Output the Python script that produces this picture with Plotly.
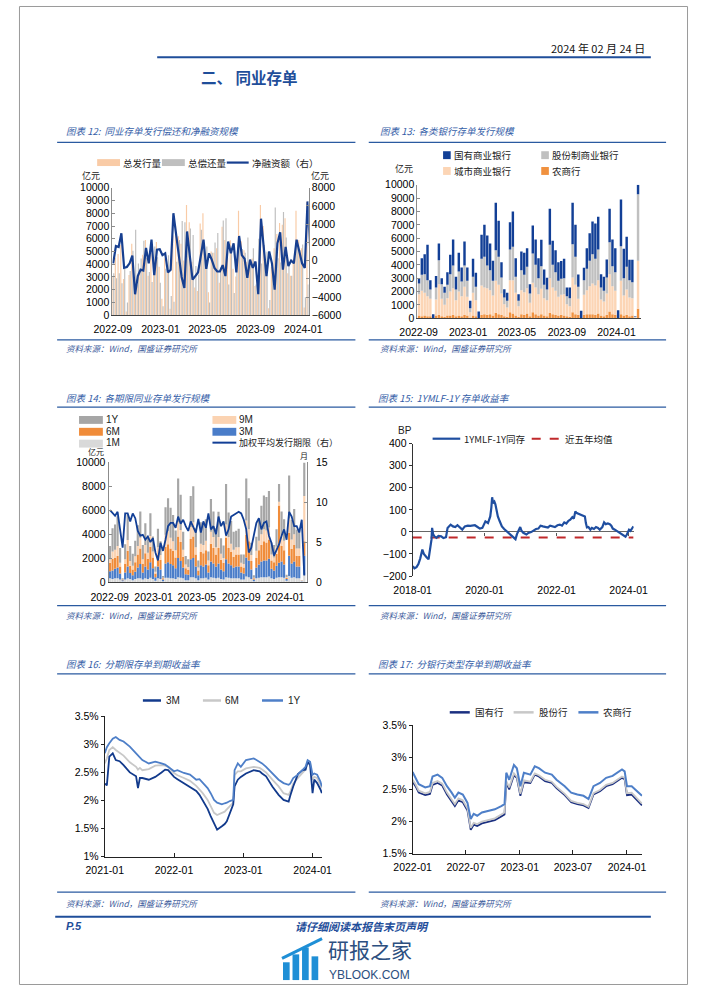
import numpy as np
import pandas as pd
import plotly.graph_objects as go

W, H = 702, 991
def PX(v): return v / W
def PY(v): return 1 - v / H

CJK = "Noto Sans CJK SC"
NUM = "Liberation Sans"
DAY = 86400000

# ---------------- data ----------------
WEEK_START = "2022-09-02"
N_WEEKS = 78
weeks = pd.date_range(WEEK_START, periods=N_WEEKS, freq="7D")

# weekly total NCD issuance (亿元)
total_issue = [3000,4500,4800,5500,2840,300,3160,5600,3000,2350,
               3450,4750,5900,3100,4900,3800,5750,3800,1300,4450,
               3400,500,6250,7000,6200,5600,4300,8650,7300,4200,
               2170,1900,7200,8000,4500,1800,5000,4900,5250,2550,
               6940,5900,4500,5880,3650,3040,8200,5800,5100,4200,
               4280,4450,2300,2300,8650,7000,3280,550,3780,5250,
               6370,7240,7100,7600,3300,3100,4400,8200,5900,5250,
               600,8900,5200,6100,4380,4380,150,10000]

# chart 12
N12 = 73
repay12 = [3300,2900,3300,2500,3640,1000,3460,5050,6700,4050,
           4450,5850,4500,3400,2600,5400,4550,2550,700,3650,
           4700,1500,1050,4200,5900,7400,7300,5450,6800,6300,
           3870,3200,6700,5700,5400,1000,4900,5700,6450,3750,
           7440,7600,2400,5080,1750,4340,5500,5200,4900,6100,
           4180,5250,2400,6000,4050,5500,4980,1200,4080,8450,
           4470,4140,8100,6100,3900,3100,4700,5900,5100,5550,
           1400,2400,4000]
net12 = [-300,1600,1500,3000,-800,-700,-300,550,-3700,-1700,
         -1000,-1100,1400,-300,2300,-1600,1200,1250,600,800,
         -1300,-1000,5200,2800,300,-1800,-3000,3200,500,-2100,
         -1700,-1300,500,2300,-900,800,100,-800,-1200,-1200,
         -500,-1700,2100,800,1900,-1300,2700,600,200,-1900,
         100,-800,-100,-3700,4600,1500,-1700,1000,-300,-3200,
         1900,3100,-1000,1500,-600,0,-300,2300,800,-300,
         -800,6500,1200]
ticks_4m = ["2022-09-01", "2023-01-01", "2023-05-01", "2023-09-01", "2024-01-01"]
ticks_4m_text = ["2022-09", "2023-01", "2023-05", "2023-09", "2024-01"]

# chart 13 (by bank type)
rural13 = [200,150,200,150,150,0,200,250,150,100,
           200,200,250,150,200,150,250,200,50,200,
           150,0,250,300,250,300,200,400,300,250,
           150,100,450,350,200,100,300,250,350,150,
           450,300,200,300,200,150,400,300,250,200,
           250,200,150,100,450,300,250,0,250,300,
           300,300,250,350,200,150,250,500,300,250,
           0,300,200,250,150,200,0,700]
city13 = [1600,1900,1700,1500,1300,0,1200,2300,1300,900,
          1300,1800,2000,1200,1800,1500,2100,1400,400,1700,
          1200,0,2200,2000,2000,1800,1500,2400,2200,1600,
          900,700,2400,2500,1700,800,1800,1700,1900,1000,
          2200,2000,1600,1900,1300,1200,2600,2000,1800,1400,
          1500,1600,900,800,2600,2200,1200,0,1500,1800,
          2100,2300,2200,2500,1200,1100,1600,2800,2100,1800,
          0,2500,1500,1900,1400,1300,50,3600]
joint13 = [800,1200,1400,1200,700,0,900,1800,1100,900,
           1000,1300,1700,800,1500,1100,1600,1200,300,1200,
           1000,0,2000,2300,1700,1500,1100,2300,2100,1200,
           500,500,2300,2500,1200,400,1500,1300,1600,700,
           2200,1700,1200,1700,1000,800,2500,1700,1400,1200,
           1200,1200,600,600,2500,2100,900,0,1100,1600,
           1900,2200,2000,2300,900,800,1200,2400,1500,1400,
           0,2600,1300,1700,1300,1200,50,5000]
state13 = [400,1250,1500,2650,690,300,860,1250,450,450,
           950,1450,1950,950,1400,1050,1800,1000,550,1350,
           1050,500,1800,2400,2250,2000,1500,3550,2700,1150,
           620,600,2050,2650,1400,500,1400,1650,1400,700,
           2090,1900,1500,1980,1150,890,2700,1800,1650,1400,
           1330,1450,650,800,3100,2400,930,550,930,1550,
           2070,2440,2650,2450,1000,1050,1350,2500,2000,1800,
           600,3500,2200,2250,1530,1680,50,700]

# chart 14 (by tenor)
m1 = [300,250,300,300,200,50,200,300,250,150,
      250,300,300,200,300,250,350,250,100,300,
      250,50,350,350,300,300,250,400,350,300,
      150,150,400,400,300,150,300,300,350,200,
      400,350,300,350,250,200,400,350,300,300,
      300,300,200,200,450,400,250,50,300,350,
      400,400,400,450,300,250,350,400,400,350,
      100,500,350,400,300,300,50,600]
m3 = [600,700,800,900,500,100,600,1000,500,400,
      600,900,1200,600,1000,800,1300,900,300,1000,
      800,150,1200,1300,1200,1100,900,1600,1400,900,
      500,450,1500,1600,1000,400,1100,1000,1100,600,
      1300,1200,1000,1200,800,700,1500,1200,1100,900,
      1000,1000,600,500,1600,1400,800,150,900,1100,
      1300,1400,1400,1500,800,700,1000,1200,1300,1100,
      150,1700,1200,1300,1000,1000,50,1600]
m6 = [700,1000,900,1000,600,50,700,1300,600,500,
      800,1100,1300,700,1100,900,1300,900,300,1000,
      800,100,1400,1500,1300,1200,900,1800,1600,900,
      500,400,1700,1800,1000,400,1100,1100,1200,600,
      1500,1300,1000,1300,800,700,1800,1300,1100,900,
      1000,1000,500,500,1900,1600,700,100,800,1200,
      1400,1600,1500,1600,700,700,1000,4800,1300,1200,
      100,1900,1200,1400,900,900,30,1200]
m9 = [300,600,700,800,300,0,400,900,400,300,
      500,700,900,400,700,500,900,500,150,600,
      400,50,1000,1100,900,800,600,1200,1000,600,
      300,250,1000,1200,600,250,700,700,800,400,
      1000,900,600,900,500,400,1100,900,700,600,
      600,600,300,300,1200,1000,500,50,600,800,
      900,1000,1000,1000,500,400,600,300,900,800,
      50,1200,800,900,600,600,10,3800]
y1 = [1100,1950,2100,2500,1240,100,1260,2100,1250,1000,
      1300,1750,2200,1200,1800,1350,1900,1250,450,1550,
      1150,150,2300,2750,2500,2200,1650,3650,2950,1500,
      720,650,2600,3000,1600,600,1800,1800,1800,750,
      2740,2150,1600,2130,1300,1040,3400,2050,1900,1500,
      1380,1550,700,800,3500,2600,1030,200,1180,1800,
      2370,2840,2800,3050,1000,1050,1450,1500,2000,1800,
      200,3600,1650,2100,1580,1580,10,2800]
term14 = [9.0,8.7,8.3,8.8,6.6,4.3,8.6,8.6,7.6,8.6,
          8.0,6.4,5.8,5.9,5.3,5.7,5.0,5.5,3.7,2.7,
          4.9,3.9,5.3,7.0,7.4,7.4,6.8,8.2,7.3,7.8,
          7.0,6.4,7.6,7.0,6.2,7.9,6.2,7.6,6.8,8.6,
          6.6,7.0,6.0,8.2,7.0,7.6,5.8,6.6,8.2,8.4,
          8.6,8.8,8.6,7.8,6.6,3.7,4.3,5.8,7.4,8.0,
          6.6,7.4,7.6,5.8,4.9,3.3,4.1,4.7,5.8,6.6,
          5.3,8.8,8.2,7.0,7.0,6.2,7.8,0.8]

# chart 15: 1Y MLF - 1Y NCD spread (BP)
d15 = ["2018-01-02","2018-01-20","2018-02-10","2018-03-01","2018-03-20","2018-04-10","2018-04-25","2018-05-10",
       "2018-05-25","2018-06-12","2018-06-28","2018-07-12","2018-07-18","2018-07-28","2018-08-10","2018-09-01",
       "2018-09-20","2018-10-18","2018-11-10","2018-12-06","2018-12-22","2019-01-22","2019-02-15","2019-03-10",
       "2019-04-01","2019-04-28","2019-05-20","2019-06-15","2019-07-15","2019-08-10","2019-09-03","2019-09-25",
       "2019-10-22","2019-11-15","2019-12-10","2020-01-10","2020-02-05","2020-02-28","2020-03-10","2020-03-18",
       "2020-03-28","2020-04-10","2020-04-20","2020-05-01","2020-05-15","2020-06-03","2020-06-25","2020-07-18",
       "2020-08-20","2020-09-21","2020-10-15","2020-11-10","2020-11-25","2020-12-12","2020-12-28","2021-01-10",
       "2021-01-28","2021-03-01","2021-03-20","2021-04-18","2021-05-10","2021-06-06","2021-06-30","2021-07-22",
       "2021-08-15","2021-09-10","2021-10-05","2021-10-28","2021-11-20","2021-12-15","2022-01-10","2022-02-03",
       "2022-02-25","2022-03-20","2022-04-10","2022-05-01","2022-05-20","2022-06-10","2022-06-25","2022-07-10",
       "2022-07-25","2022-08-10","2022-09-01","2022-09-25","2022-10-15","2022-10-25","2022-11-05","2022-11-20",
       "2022-12-10","2022-12-25","2023-01-15","2023-02-05","2023-02-25","2023-03-15","2023-04-10","2023-04-28",
       "2023-05-15","2023-06-05","2023-06-25","2023-07-10","2023-07-25","2023-08-15","2023-09-10","2023-09-25",
       "2023-10-15","2023-11-05","2023-11-18","2023-12-01","2023-12-15","2024-01-06","2024-01-20","2024-02-05",
       "2024-02-20"]
v15 = [-155,-165,-160,-146,-120,-80,-100,-110,
       -116,-124,-80,-34,18,-10,-20,-27,
       -18,-20,-28,-24,18,33,25,22,
       30,18,10,25,28,27,28,30,
       22,15,18,48,40,70,110,157,
       130,137,125,100,70,48,25,13,
       0,-12,-20,-33,-10,3,22,5,
       -4,-12,-5,-1,5,13,15,28,
       25,22,20,28,25,22,30,33,
       28,43,38,50,55,67,60,93,
       85,82,78,75,70,40,20,22,
       10,18,13,22,18,10,22,43,
       35,38,35,28,15,10,2,-2,
       -8,-15,-20,-22,-12,10,5,18,
       25]
MEAN_5Y = -25
ticks15 = ["2018-01-01", "2020-01-01", "2022-01-01", "2024-01-01"]
ticks15_text = ["2018-01", "2020-01", "2022-01", "2024-01"]

# chart 16: yields by tenor (%)
d16 = ["2021-01-01","2021-01-12","2021-01-25","2021-02-12","2021-02-28","2021-03-20","2021-04-10","2021-05-13",
       "2021-06-15","2021-06-25","2021-07-05","2021-07-18","2021-08-21","2021-09-24","2021-10-27","2021-11-15",
       "2021-12-01","2022-01-01","2022-01-19","2022-02-22","2022-03-26","2022-04-28","2022-05-15","2022-06-01",
       "2022-06-27","2022-07-13","2022-07-31","2022-08-16","2022-09-10","2022-09-25","2022-10-06","2022-10-22",
       "2022-11-09","2022-11-16","2022-12-03","2022-12-19","2023-01-15","2023-02-25","2023-03-28","2023-04-10",
       "2023-05-01","2023-06-03","2023-07-06","2023-08-01","2023-08-28","2023-09-05","2023-09-21","2023-10-16",
       "2023-11-10","2023-11-25","2023-12-06","2023-12-19","2024-01-01","2024-01-10","2024-01-25","2024-02-11",
       "2024-02-19"]
y16_1y = [2.84,2.95,3.02,3.10,3.13,3.08,3.05,2.96,
          2.84,2.80,2.78,2.72,2.66,2.69,2.66,2.64,
          2.60,2.52,2.54,2.49,2.46,2.37,2.38,2.31,
          2.22,2.13,2.01,1.96,1.93,1.95,1.96,1.99,
          2.01,2.54,2.66,2.60,2.72,2.75,2.69,2.66,
          2.60,2.49,2.37,2.31,2.28,2.30,2.40,2.46,
          2.54,2.60,2.72,2.69,2.46,2.48,2.46,2.34,
          2.25]
y16_6m = [2.66,2.75,2.90,2.95,2.90,2.85,2.80,2.68,
          2.60,2.55,2.58,2.54,2.56,2.62,2.63,2.62,
          2.60,2.49,2.45,2.40,2.35,2.26,2.20,2.13,
          2.01,1.90,1.78,1.74,1.78,1.80,1.84,1.90,
          1.96,2.45,2.52,2.52,2.57,2.60,2.58,2.55,
          2.50,2.37,2.25,2.13,2.10,2.15,2.30,2.40,
          2.50,2.55,2.67,2.67,2.37,2.42,2.40,2.28,
          2.22]
y16_3m = [2.30,2.27,2.78,2.84,2.72,2.70,2.63,2.50,
          2.43,2.22,2.40,2.40,2.37,2.42,2.50,2.55,
          2.54,2.42,2.38,2.31,2.25,2.17,2.10,2.00,
          1.85,1.72,1.58,1.48,1.54,1.58,1.63,1.78,
          1.93,2.25,2.37,2.42,2.48,2.54,2.52,2.48,
          2.43,2.25,2.10,2.01,1.98,2.08,2.25,2.47,
          2.54,2.55,2.69,2.63,2.13,2.37,2.31,2.20,
          2.13]
ticks16 = ["2021-01-01", "2022-01-01", "2023-01-01", "2024-01-01"]
ticks16_text = ["2021-01", "2022-01", "2023-01", "2024-01"]
pct16 = [1, 1.5, 2, 2.5, 3, 3.5]
pct16_text = ["1%", "1.5%", "2%", "2.5%", "3%", "3.5%"]

# chart 17: yields by bank type (%)
d17 = ["2022-01-01","2022-01-11","2022-01-22","2022-02-13","2022-03-01","2022-03-10","2022-03-27","2022-04-12","2022-04-28","2022-05-14",
       "2022-05-25","2022-06-06","2022-06-21","2022-07-07","2022-07-18","2022-07-28","2022-08-09","2022-08-25","2022-09-16","2022-10-08",
       "2022-10-30","2022-11-10","2022-11-16","2022-11-26","2022-12-12","2022-12-22","2023-01-03","2023-01-15","2023-02-06","2023-02-21",
       "2023-03-07","2023-03-28","2023-04-20","2023-05-06","2023-06-03","2023-06-25","2023-07-16","2023-08-06","2023-08-23","2023-09-09",
       "2023-10-01","2023-10-22","2023-11-13","2023-12-04","2023-12-15","2023-12-24","2024-01-01","2024-01-17","2024-02-08","2024-02-21"]
y17_rural = [2.77,2.68,2.58,2.53,2.55,2.70,2.73,2.68,2.55,2.45,
             2.37,2.45,2.42,2.29,2.04,2.12,2.09,2.14,2.17,2.19,
             2.24,2.27,2.76,2.65,2.88,2.83,2.55,2.76,2.73,2.86,
             2.83,2.76,2.73,2.65,2.55,2.45,2.42,2.40,2.35,2.55,
             2.60,2.68,2.71,2.78,2.81,2.78,2.55,2.55,2.45,2.40]
y17_joint = [2.65,2.58,2.48,2.44,2.46,2.60,2.63,2.59,2.45,2.34,
             2.27,2.36,2.33,2.20,1.90,1.98,1.96,2.00,2.03,2.05,
             2.11,2.14,2.63,2.53,2.75,2.70,2.43,2.64,2.62,2.75,
             2.72,2.65,2.62,2.54,2.43,2.32,2.29,2.27,2.23,2.44,
             2.49,2.57,2.60,2.67,2.70,2.68,2.44,2.45,2.35,2.28]
y17_state = [2.62,2.55,2.45,2.41,2.43,2.57,2.60,2.56,2.42,2.31,
             2.24,2.33,2.30,2.17,1.87,1.95,1.93,1.97,2.00,2.02,
             2.08,2.11,2.60,2.50,2.72,2.68,2.40,2.61,2.60,2.73,
             2.70,2.63,2.60,2.52,2.41,2.30,2.27,2.25,2.21,2.42,
             2.47,2.55,2.58,2.65,2.68,2.66,2.41,2.42,2.32,2.25]
ticks17 = ["2022-01-01", "2022-07-01", "2023-01-01", "2023-07-01", "2024-01-01"]
ticks17_text = ["2022-01", "2022-07", "2023-01", "2023-07", "2024-01"]
pct17 = [1.5, 2, 2.5, 3, 3.5]
pct17_text = ["1.5%", "2%", "2.5%", "3%", "3.5%"]

# ---------------- colours ----------------
NAVY = "#173f90"
BLUE_T = "#3560a8"
C_PEACH = "#f9cba6"
C_GRAY = "#bfbfbf"

fig = go.Figure()

# ---- chart 12 ----
w12 = weeks[:N12]
fig.add_trace(go.Bar(x=w12, y=total_issue[:N12], xaxis="x", yaxis="y", marker=dict(color=C_PEACH, line=dict(width=0)),
                     width=3 * DAY, offset=-3 * DAY))
fig.add_trace(go.Bar(x=w12, y=repay12, xaxis="x", yaxis="y", marker=dict(color=C_GRAY, line=dict(width=0)),
                     width=3 * DAY, offset=0))
fig.add_trace(go.Scatter(x=w12, y=net12, xaxis="x", yaxis="y2", mode="lines",
                         line=dict(color=NAVY, width=2.2)))

# ---- chart 13 (stacked with base) ----
stack13 = [(rural13, "#f0913f"), (city13, "#fcd5b5"), (joint13, "#c0c0c0"), (state13, "#123f96")]
base = np.zeros(N_WEEKS)
for vals, col in stack13:
    fig.add_trace(go.Bar(x=weeks, y=vals, base=base.copy(), xaxis="x2", yaxis="y3",
                         marker=dict(color=col, line=dict(width=0)), width=6 * DAY))
    base = base + np.array(vals)

# ---- chart 14 ----
stack14 = [(m1, "#d9d9d9"), (m3, "#4a7dc9"), (m6, "#f08c3a"), (m9, "#fbd3b2"), (y1, "#a6a6a6")]
base = np.zeros(N_WEEKS)
for vals, col in stack14:
    fig.add_trace(go.Bar(x=weeks, y=vals, base=base.copy(), xaxis="x3", yaxis="y4",
                         marker=dict(color=col, line=dict(width=0)), width=6 * DAY))
    base = base + np.array(vals)
fig.add_trace(go.Scatter(x=weeks, y=term14, xaxis="x3", yaxis="y5", mode="lines",
                         line=dict(color="#123f96", width=1.8)))

# ---- chart 15 ----
fig.add_trace(go.Scatter(x=[d15[0], d15[-1]], y=[MEAN_5Y, MEAN_5Y], xaxis="x4", yaxis="y6", mode="lines",
                         line=dict(color="#c0292b", width=2, dash="dash")))
fig.add_trace(go.Scatter(x=d15, y=v15, xaxis="x4", yaxis="y6", mode="lines",
                         line=dict(color="#1f4ea0", width=2.2)))
fig.add_trace(go.Scatter(x=[d15[0]], y=[0], xaxis="x5", yaxis="y6", mode="markers",
                         marker=dict(opacity=0), hoverinfo="skip"))

# ---- chart 16 ----
fig.add_trace(go.Scatter(x=d16, y=y16_6m, xaxis="x6", yaxis="y7", mode="lines", line=dict(color="#c8c8c8", width=1.8)))
fig.add_trace(go.Scatter(x=d16, y=y16_3m, xaxis="x6", yaxis="y7", mode="lines", line=dict(color="#123a8c", width=1.8)))
fig.add_trace(go.Scatter(x=d16, y=y16_1y, xaxis="x6", yaxis="y7", mode="lines", line=dict(color="#4e7fc8", width=1.8)))

# ---- chart 17 ----
fig.add_trace(go.Scatter(x=d17, y=y17_state, xaxis="x7", yaxis="y8", mode="lines", line=dict(color="#1a2f80", width=1.8)))
fig.add_trace(go.Scatter(x=d17, y=y17_joint, xaxis="x7", yaxis="y8", mode="lines", line=dict(color="#c8c8c8", width=1.8)))
fig.add_trace(go.Scatter(x=d17, y=y17_rural, xaxis="x7", yaxis="y8", mode="lines", line=dict(color="#4e7fc8", width=2)))

# ---------------- axes ----------------
TF = dict(family=NUM, size=10.5, color="#000")
def ax(**kw):
    d = dict(showgrid=False, zeroline=False, showline=True, linecolor="#595959", linewidth=1,
             ticks="", tickfont=TF, fixedrange=True, tickangle=0)
    d.update(kw)
    return d

zero_pos = PY(577) + (PY(443) - PY(577)) / 3.0

layout_axes = dict(
    xaxis=ax(domain=[PX(98), PX(304)], anchor="y", type="date", range=["2022-08-31", "2024-01-15"],
             tickvals=ticks_4m, ticktext=ticks_4m_text, linecolor="#404040", ticklabelstandoff=4),
    yaxis=ax(domain=[PY(313), PY(184)], anchor="x", range=[0, 10000], dtick=1000, tickformat="d",
             linecolor="#8c8c8c", ticks="inside", ticklen=3, tickcolor="#8c8c8c"),
    yaxis2=ax(overlaying="y", side="right", anchor="x", range=[-6000, 8000], dtick=2000, tickformat="d",
              linecolor="#8c8c8c", ticks="inside", ticklen=3, tickcolor="#8c8c8c"),
    xaxis2=ax(domain=[PX(418), PX(653)], anchor="y3", type="date", range=["2022-08-29", "2024-03-02"],
              tickvals=ticks_4m, ticktext=ticks_4m_text, linecolor="#404040", ticklabelstandoff=4),
    yaxis3=ax(domain=[PY(316), PY(181)], anchor="x2", range=[0, 10000], dtick=1000, tickformat="d",
              linecolor="#8c8c8c", ticks="inside", ticklen=3, tickcolor="#8c8c8c"),
    xaxis3=ax(domain=[PX(94), PX(302)], anchor="y4", type="date", range=["2022-08-29", "2024-03-01"],
              tickvals=ticks_4m, ticktext=ticks_4m_text, linecolor="#404040", ticklabelstandoff=5),
    yaxis4=ax(domain=[PY(583), PY(462)], anchor="x3", range=[0, 10000], dtick=2000, tickformat="d",
              linecolor="#8c8c8c", ticks="inside", ticklen=3, tickcolor="#8c8c8c"),
    yaxis5=ax(overlaying="y4", side="right", anchor="x3", range=[0, 15], dtick=5, linecolor="#8c8c8c",
              ticks="inside", ticklen=3, tickcolor="#8c8c8c", ticklabelstandoff=6),
    xaxis4=ax(domain=[PX(413), PX(645)], anchor="y6", type="date", range=["2018-01-01", "2024-02-22"],
              tickvals=ticks15, ticktext=ticks15_text, showline=False, ticklabelstandoff=6),
    xaxis5=ax(overlaying="x4", anchor="free", position=zero_pos, type="date", range=["2018-01-01", "2024-02-22"],
              tickvals=ticks15, showticklabels=False, showline=False, ticks="outside", ticklen=3, tickcolor="#555"),
    yaxis6=ax(domain=[PY(577), PY(443)], anchor="x4", range=[-200, 400], dtick=100, linecolor="#333",
              ticks="outside", ticklen=3, tickcolor="#333", zeroline=True, zerolinecolor="#666", zerolinewidth=1),
    xaxis6=ax(domain=[PX(90), PX(318)], anchor="y7", type="date", range=["2021-01-01", "2024-02-20"],
              tickvals=ticks16, ticktext=ticks16_text, linecolor="#222", ticks="inside", ticklen=4, tickcolor="#222",
              ticklabelstandoff=4),
    yaxis7=ax(domain=[PY(861), PY(719)], anchor="x6", range=[1, 3.5], tickvals=pct16, ticktext=pct16_text,
              linecolor="#222", ticks="outside", ticklen=3, tickcolor="#222"),
    xaxis7=ax(domain=[PX(413), PX(654)], anchor="y8", type="date", range=["2022-01-01", "2024-02-22"],
              tickvals=ticks17, ticktext=ticks17_text, linecolor="#222", ticks="inside", ticklen=4, tickcolor="#222",
              ticklabelstandoff=4),
    yaxis8=ax(domain=[PY(858), PY(728)], anchor="x7", range=[1.5, 3.5], tickvals=pct17, ticktext=pct17_text,
              linecolor="#222", ticks="outside", ticklen=3, tickcolor="#222"),
)

# ---------------- decorations ----------------
shapes, annots = [], []
def rect(x0, y0, x1, y1, color):
    shapes.append(dict(type="rect", xref="paper", yref="paper", x0=PX(x0), x1=PX(x1), y0=PY(y1), y1=PY(y0),
                       fillcolor=color, line=dict(width=0), layer="above"))
def hline(x0, x1, y, color, width, dash="solid"):
    shapes.append(dict(type="line", xref="paper", yref="paper", x0=PX(x0), x1=PX(x1), y0=PY(y), y1=PY(y),
                       line=dict(color=color, width=width, dash=dash), layer="above"))
def text(x, y, s, size=9.5, color="#222", family=CJK, anchor="left"):
    annots.append(dict(x=PX(x), y=PY(y), xref="paper", yref="paper", text=s, showarrow=False,
                       xanchor=anchor, yanchor="middle", font=dict(size=size, color=color, family=family),
                       borderpad=0))

# page border
shapes.append(dict(type="rect", xref="paper", yref="paper", x0=PX(0.5), x1=PX(701.5), y0=PY(990.5), y1=PY(0.5),
                   line=dict(color="#9a9a9a", width=1), fillcolor="rgba(0,0,0,0)"))

# header
text(658, 43, "2024 年 02 月 24 日", size=11, color="#111", anchor="right")
hline(145, 663, 52, "#1f4e9a", 2)
text(190, 72, "<b>二、 同业存单</b>", size=15.5, color="#1f4e9a")

LINEC = "#2a5aa0"
# titles & underline
for (x, y, s) in [(48, 127, "图表 12:  同业存单发行偿还和净融资规模"), (378, 127, "图表 13:  各类银行存单发行规模"),
                  (48, 397, "图表 14:  各期限同业存单发行规模"), (376, 397, "图表 15:  1YMLF-1Y 存单收益率"),
                  (48, 666, "图表 16:  分期限存单到期收益率"), (376, 666, "图表 17:  分银行类型存单到期收益率")]:
    text(x, y, "<i>" + s + "</i>", size=9.5, color=BLUE_T)
for y in (138, 406, 676):
    hline(40, 353, y, LINEC, 1.3)
    hline(367, 679, y, LINEC, 1.3)
# source lines
for (yl, yt) in ((338, 346), (607, 616), (897, 908)):
    hline(40, 353, yl, LINEC, 1.3)
    hline(367, 679, yl, LINEC, 1.3)
    text(48, yt, "<i>资料来源：Wind，国盛证券研究所</i>", size=8.5, color="#3d5c9c")
    text(378, yt, "<i>资料来源：Wind，国盛证券研究所</i>", size=8.5, color="#3d5c9c")

# chart 12 legend
rect(82, 155, 106, 162, C_PEACH); text(108, 158.5, "总发行量")
rect(150, 155, 174, 162, C_GRAY); text(176, 158.5, "总偿还量")
hline(218, 241, 158.5, NAVY, 2.2); text(243, 158.5, "净融资额（右）")
text(65, 172, "亿元", size=9); text(305, 172, "亿元", size=9)

# chart 13 legend
rect(445, 147, 453, 155, "#123f96"); text(455, 151, "国有商业银行")
rect(548, 147, 556, 155, "#c0c0c0"); text(558, 151, "股份制商业银行")
rect(445, 163, 453, 171, "#fcd5b5"); text(455, 167, "城市商业银行")
rect(548, 163, 556, 171, "#f0913f"); text(558, 167, "农商行")
text(393, 164, "亿元", size=9)

# chart 14 legend
rect(63, 415, 88, 423, "#a6a6a6"); text(90, 419, "1Y", family=NUM, size=10)
rect(203, 415, 228, 423, "#fbd3b2"); text(230, 419, "9M", family=NUM, size=10)
rect(63, 427, 88, 435, "#f08c3a"); text(90, 431, "6M", family=NUM, size=10)
rect(203, 427, 228, 435, "#4a7dc9"); text(230, 431, "3M", family=NUM, size=10)
rect(63, 439, 88, 447, "#d9d9d9"); text(90, 442, "1M", family=NUM, size=10)
hline(203, 228, 442, "#123f96", 2); text(230, 442, "加权平均发行期限（右）", size=9)
text(71, 451, "亿元", size=8); text(294, 455, "月", size=8)

# chart 15 legend
hline(434, 463, 438, "#1f4ea0", 2.2); text(466, 438, "1YMLF-1Y同存")
hline(538, 568, 438, "#c0292b", 2, "dash"); text(572, 438, "近五年均值")
text(397, 430, "BP", family=NUM, size=10)

# chart 16 legend
hline(130, 149, 703, "#123a8c", 2.5); text(153, 703, "3M", family=NUM, size=10)
hline(193, 212, 703, "#c8c8c8", 2.5); text(215, 703, "6M", family=NUM, size=10)
hline(255, 277, 703, "#4e7fc8", 2.5); text(281, 703, "1Y", family=NUM, size=10)

# chart 17 legend
hline(452, 473, 715, "#1a2f80", 2.5); text(477, 715, "国有行")
hline(519, 540, 715, "#c8c8c8", 2.5); text(545, 715, "股份行")
hline(587, 608, 715, "#4e7fc8", 2.5); text(612, 715, "农商行")

# footer
hline(38, 663, 922, "#1f4e9a", 2)
text(48, 931, "<b><i>P.5</i></b>", family=NUM, size=11, color="#1f4e9a")
text(360, 931, "<b><i>请仔细阅读本报告末页声明</i></b>", size=11, color="#1f4e9a", anchor="center")

# watermark
for (x0, top) in ((277, 968), (287, 960), (297, 953), (307, 962)):
    rect(x0, top, x0 + 7, 986, "#1f8fd6")
shapes.append(dict(type="line", xref="paper", yref="paper", x0=PX(276), y0=PY(964), x1=PX(318), y1=PY(944),
                   line=dict(color="#1f8fd6", width=3)))
text(323, 955, "研报之家", size=21, color="#2c4f80")
text(324, 981, "YBLOOK.COM", family=NUM, size=12, color="#2c4f80")

fig.update_layout(
    width=W, height=H, margin=dict(l=0, r=0, t=0, b=0),
    paper_bgcolor="white", plot_bgcolor="white",
    barmode="overlay", showlegend=False, hovermode=False,
    font=dict(family=NUM, size=10, color="#000"),
    shapes=shapes, annotations=annots,
    **layout_axes,
)

fig.write_html("out.html", config={"displayModeBar": False, "staticPlot": True},
               post_script="document.body.style.margin='0';document.body.style.overflow='hidden';")
